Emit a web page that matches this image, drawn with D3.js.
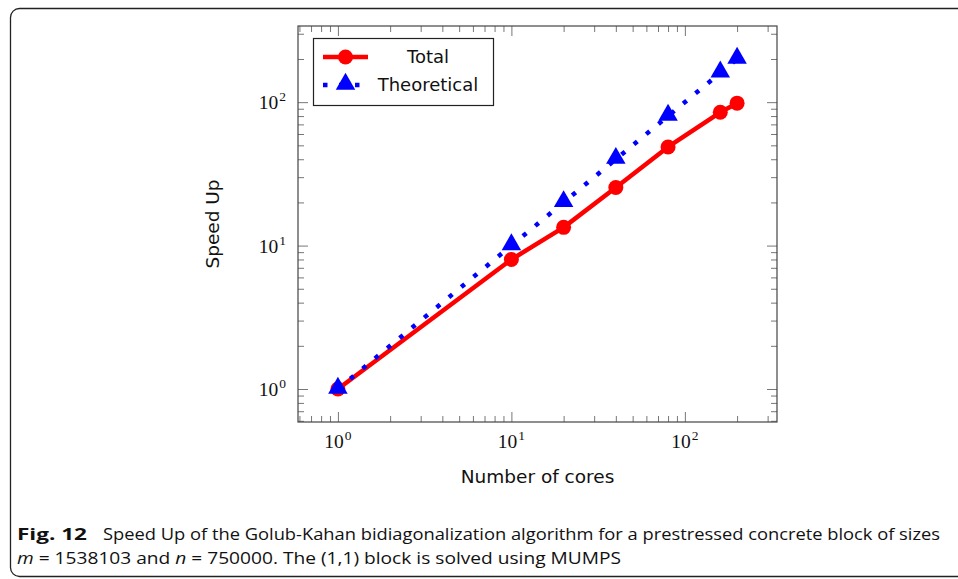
<!DOCTYPE html>
<html>
<head>
<meta charset="utf-8">
<script src="https://cdn.jsdelivr.net/npm/d3@7"></script>
<style>
  html, body { margin: 0; padding: 0; background: #fff; }
  svg { display: block; }
</style>
</head>
<body>
<svg id="chart" width="958" height="579"></svg>
<script>
// ---- data ----
const cores = [1, 10, 20, 40, 80, 160, 200];
const totalSpeedUp = [1, 8, 13.4, 25.4, 48.7, 85, 98.4];
const theoreticalSpeedUp = [1, 10, 20, 40, 80, 160, 200];
const seriesNames = ["Total", "Theoretical"];
const majorTicks = [1, 10, 100];
const majorTickLabels = ["0", "1", "2"]; // exponents of 10
const minorTicks = [0.6, 0.7, 0.8, 0.9, 2, 3, 4, 5, 6, 7, 8, 9, 20, 30, 40, 50, 60, 70, 80, 90, 200, 300];
const xLabel = "Number of cores";
const yLabel = "Speed Up";

const svg = d3.select("#chart");

// outer rounded frame
svg.append("rect")
  .attr("x", 10.5).attr("y", 8.5).attr("width", 980).attr("height", 568)
  .attr("rx", 9).attr("ry", 9)
  .attr("fill", "none").attr("stroke", "#222").attr("stroke-width", 1.3);

// plot area
const L = 298, R = 777, T = 26, B = 422;
const lo = Math.pow(10, -0.2301), hi = Math.pow(10, 2.5311);
const x = d3.scaleLog().domain([lo, hi]).range([L, R]);
const y = d3.scaleLog().domain([lo, hi]).range([B, T]);

const g = svg.append("g");

// ticks (inward on all four sides)
function drawAxis(axisGen, transform, majorLen, minorLen) {
  const gm = g.append("g").attr("transform", transform)
    .call(axisGen.tickValues(minorTicks).tickSizeInner(-minorLen).tickSizeOuter(0).tickFormat(""));
  gm.select(".domain").remove();
  gm.selectAll(".tick line").attr("stroke", "#777").attr("stroke-width", 1);
  const gM = g.append("g").attr("transform", transform)
    .call(axisGen.tickValues(majorTicks).tickSizeInner(-majorLen).tickSizeOuter(0).tickFormat(""));
  gM.select(".domain").remove();
  gM.selectAll(".tick line").attr("stroke", "#777").attr("stroke-width", 1);
}
drawAxis(d3.axisBottom(x), `translate(0,${B})`, 10, 6);
drawAxis(d3.axisTop(x), `translate(0,${T})`, 10, 6);
drawAxis(d3.axisLeft(y), `translate(${L},0)`, 10, 6);
drawAxis(d3.axisRight(y), `translate(${R},0)`, 10, 6);

// frame
g.append("rect").attr("x", L).attr("y", T).attr("width", R - L).attr("height", B - T)
  .attr("fill", "none").attr("stroke", "#444").attr("stroke-width", 1.2);

// tick labels
const serif = "'Liberation Serif', 'DejaVu Serif', serif";
majorTicks.forEach((v, i) => {
  const tx = svg.append("text")
    .attr("x", x(v)).attr("y", B + 26)
    .attr("text-anchor", "middle")
    .attr("font-family", serif).attr("font-size", 19.5).attr("fill", "#111");
  tx.append("tspan").text("10");
  tx.append("tspan").attr("dy", -8).attr("font-size", 13.5).attr("dx", 1).text(majorTickLabels[i]);

  const ty = svg.append("text")
    .attr("x", L - 12).attr("y", y(v) + 7)
    .attr("text-anchor", "end")
    .attr("font-family", serif).attr("font-size", 19.5).attr("fill", "#111");
  ty.append("tspan").text("10");
  ty.append("tspan").attr("dy", -8).attr("font-size", 13.5).attr("dx", 1).text(majorTickLabels[i]);
});

// axis labels
const sans = "'DejaVu Sans', sans-serif";
svg.append("text").attr("x", (L + R) / 2).attr("y", 483)
  .attr("text-anchor", "middle").attr("font-family", sans).attr("font-size", 18.5).attr("fill", "#111")
  .text(xLabel);
svg.append("text").attr("transform", `translate(219,${(T + B) / 2}) rotate(-90)`)
  .attr("text-anchor", "middle").attr("font-family", sans).attr("font-size", 18.5).attr("fill", "#111")
  .text(yLabel);

// series
const totalData = cores.map((c, i) => [c, totalSpeedUp[i]]);
const theoData = cores.map((c, i) => [c, theoreticalSpeedUp[i]]);
const line = d3.line().x(d => x(d[0])).y(d => y(d[1]));

const plot = svg.append("g");

plot.append("path").datum(totalData).attr("d", line)
  .attr("fill", "none").attr("stroke", "#ff0000").attr("stroke-width", 4.5)
  .attr("stroke-linejoin", "round");
plot.selectAll("circle.total").data(totalData).enter().append("circle")
  .attr("cx", d => x(d[0])).attr("cy", d => y(d[1])).attr("r", 7.5)
  .attr("fill", "#ff0000");

plot.append("path").datum(theoData).attr("d", line)
  .attr("fill", "none").attr("stroke", "#0000ff").attr("stroke-width", 4.5)
  .attr("stroke-dasharray", "4.5 11.5");
const tri = d3.symbol().type(d3.symbolTriangle).size(165);
plot.selectAll("path.theo").data(theoData).enter().append("path")
  .attr("transform", d => `translate(${x(d[0])},${y(d[1]) - 1})`)
  .attr("d", tri).attr("fill", "#0000ff");

// legend
const lg = svg.append("g");
lg.append("rect").attr("x", 313.5).attr("y", 38.5).attr("width", 180).attr("height", 67)
  .attr("fill", "#fff").attr("stroke", "#222").attr("stroke-width", 1.2);
lg.append("line").attr("x1", 323).attr("x2", 368).attr("y1", 57).attr("y2", 57)
  .attr("stroke", "#ff0000").attr("stroke-width", 4.5);
lg.append("circle").attr("cx", 345.5).attr("cy", 57).attr("r", 7.5).attr("fill", "#ff0000");
lg.append("line").attr("x1", 323).attr("x2", 368).attr("y1", 85).attr("y2", 85)
  .attr("stroke", "#0000ff").attr("stroke-width", 4.5).attr("stroke-dasharray", "4.5 11.5");
lg.append("path").attr("transform", "translate(345.5,84)").attr("d", tri).attr("fill", "#0000ff");
lg.append("text").attr("x", 428).attr("y", 63).attr("text-anchor", "middle")
  .attr("font-family", sans).attr("font-size", 18).attr("fill", "#111").text(seriesNames[0]);
lg.append("text").attr("x", 428).attr("y", 91).attr("text-anchor", "middle")
  .attr("font-family", sans).attr("font-size", 18).attr("fill", "#111").text(seriesNames[1]);

// caption
const cap = "'Open Sans', 'Noto Sans', sans-serif";
svg.append("text").attr("x", 17).attr("y", 540)
  .attr("font-family", cap).attr("font-size", 16.5).attr("font-weight", "bold").attr("fill", "#111")
  .attr("textLength", 70).attr("lengthAdjust", "spacingAndGlyphs")
  .text("Fig. 12");
svg.append("text").attr("x", 103).attr("y", 540)
  .attr("font-family", cap).attr("font-size", 16.5).attr("fill", "#111")
  .attr("textLength", 837).attr("lengthAdjust", "spacingAndGlyphs")
  .text("Speed Up of the Golub-Kahan bidiagonalization algorithm for a prestressed concrete block of sizes");
const l2 = svg.append("text").attr("x", 17).attr("y", 564)
  .attr("font-family", cap).attr("font-size", 16.5).attr("fill", "#111")
  .attr("textLength", 604).attr("lengthAdjust", "spacingAndGlyphs");
l2.append("tspan").attr("font-style", "italic").text("m");
l2.append("tspan").text(" = 1538103 and ");
l2.append("tspan").attr("font-style", "italic").text("n");
l2.append("tspan").text(" = 750000. The (1,1) block is solved using MUMPS");
</script>
</body>
</html>
